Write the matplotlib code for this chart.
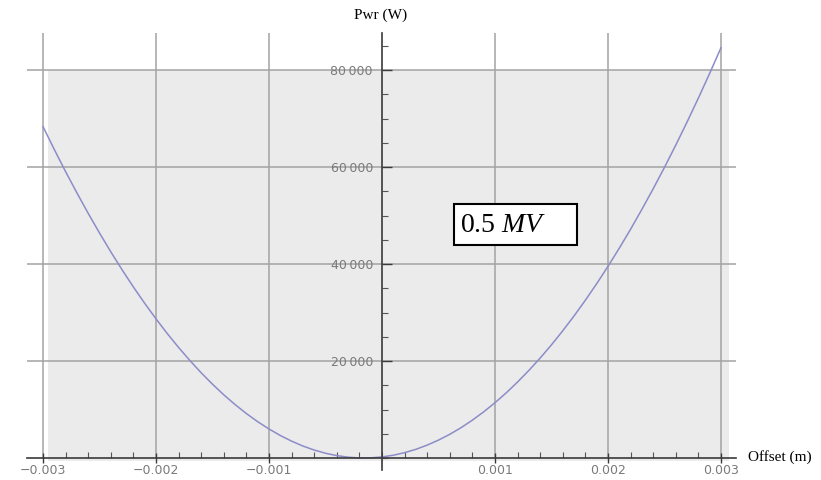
import matplotlib.pyplot as plt
from matplotlib.patches import Rectangle
from matplotlib.ticker import MultipleLocator, FixedLocator, FixedFormatter

plt.rcParams['mathtext.fontset'] = 'custom'
plt.rcParams['mathtext.rm'] = 'Liberation Serif'
plt.rcParams['mathtext.it'] = 'Liberation Serif:italic'

# power vs offset
offset = [-0.0030, -0.0029, -0.0028, -0.0027, -0.0026, -0.0025, -0.0024, -0.0023,
          -0.0022, -0.0021, -0.0020, -0.0019, -0.0018, -0.0017, -0.0016, -0.0015,
          -0.0014, -0.0013, -0.0012, -0.0011, -0.0010, -0.0009, -0.0008, -0.0007,
          -0.0006, -0.0005, -0.0004, -0.0003, -0.0002, -0.0001, 0.0000, 0.0001,
          0.0002, 0.0003, 0.0004, 0.0005, 0.0006, 0.0007, 0.0008, 0.0009,
          0.0010, 0.0011, 0.0012, 0.0013, 0.0014, 0.0015, 0.0016, 0.0017,
          0.0018, 0.0019, 0.0020, 0.0021, 0.0022, 0.0023, 0.0024, 0.0025,
          0.0026, 0.0027, 0.0028, 0.0029, 0.0030]
power = [68320, 63590, 59030, 54650, 50430, 46380, 42500, 38790,
         35250, 31880, 28680, 25640, 22780, 20090, 17560, 15210,
         13020, 11010, 9160, 7480, 5980, 4640, 3470, 2470,
         1640, 980, 490, 170, 15, 30, 220, 570,
         1100, 1790, 2660, 3690, 4890, 6260, 7810, 9520,
         11400, 13450, 15670, 18060, 20610, 23340, 26240, 29300,
         32540, 35940, 39520, 43260, 47170, 51260, 55510, 59930,
         64520, 69280, 74210, 79310, 84580]

x_ticks = [-0.003, -0.002, -0.001, 0.001, 0.002, 0.003]
x_labels = ['\u22120.003', '\u22120.002', '\u22120.001', '0.001', '0.002', '0.003']
y_ticks = [20000, 40000, 60000, 80000]
y_labels = ['20\u2009000', '40\u2009000', '60\u2009000', '80\u2009000']

fig = plt.figure(figsize=(8.21, 4.8), dpi=100)
ax = fig.add_axes([27 / 821, 10 / 480, 709 / 821, 437 / 480])
ax.set_xlim(-0.003142, 0.003133)
ax.set_ylim(-2474, 87629)
ax.patch.set_visible(False)

# shaded plot region
ax.add_patch(Rectangle((-0.002956, -600), 0.006027, 80600,
                       facecolor='#ebebeb', edgecolor='none', zorder=0))

grid_kw = dict(color='#a3a3a3', lw=1.1, zorder=1)
for yv in y_ticks:
    ax.axhline(yv, **grid_kw)
ax.vlines(x_ticks, 0, 87629, **grid_kw)

ax.plot(offset, power, color='#8c8cc8', lw=1.1, zorder=3)

for side in ['top', 'right']:
    ax.spines[side].set_visible(False)
for side in ['left', 'bottom']:
    ax.spines[side].set_position(('data', 0))
    ax.spines[side].set_color('#3a3a3a')
    ax.spines[side].set_linewidth(1.2)
    ax.spines[side].set_zorder(4)

ax.xaxis.set_major_locator(FixedLocator(x_ticks))
ax.xaxis.set_major_formatter(FixedFormatter(x_labels))
ax.xaxis.set_minor_locator(MultipleLocator(0.0002))
ax.yaxis.set_major_locator(FixedLocator(y_ticks))
ax.yaxis.set_major_formatter(FixedFormatter(y_labels))
ax.yaxis.set_minor_locator(MultipleLocator(5000))

ax.tick_params(axis='x', which='major', direction='inout', length=7, width=1,
               color='#3a3a3a', labelsize=9, labelcolor='#7a7a7a', pad=1)
ax.tick_params(axis='x', which='minor', direction='in', length=4, width=0.8,
               color='#555555')
ax.tick_params(axis='y', which='major', direction='in', length=7, width=1,
               color='#3a3a3a', labelsize=9, labelcolor='#7a7a7a', pad=6.5)
ax.tick_params(axis='y', which='minor', direction='in', length=4, width=0.8,
               color='#555555')
for lab in ax.get_xticklabels() + ax.get_yticklabels():
    lab.set_zorder(5)

fig.text(381 / 821, 1 - 15 / 480, 'Pwr (W)', family='Liberation Serif',
         fontsize=11, ha='center', va='center')
fig.text(748 / 821, 1 - 457 / 480, 'Offset (m)', family='Liberation Serif',
         fontsize=11, ha='left', va='center')

# label box
ax.add_patch(Rectangle((0.000637, 43918), 0.001089, 8453, facecolor='white',
                       edgecolor='black', lw=1.5, zorder=6))
ax.text(0.00069, 46600, r'0.5 $MV$', family='Liberation Serif', fontsize=20,
        ha='left', va='baseline', zorder=7)

fig.savefig('out.png', dpi=100)
